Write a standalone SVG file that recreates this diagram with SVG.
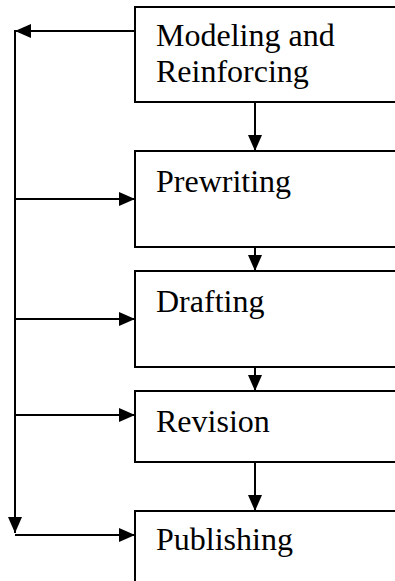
<svg xmlns="http://www.w3.org/2000/svg" width="395" height="581" viewBox="0 0 395 581">
<style>
.box{fill:#fff;stroke:#000;stroke-width:2}
.lbl{font-family:"Liberation Serif","Times New Roman",serif;font-size:32px;fill:#000}
.conn line{stroke:#000;stroke-width:2;marker-end:url(#ah)}
</style>
<defs>
<marker id="ah" markerUnits="userSpaceOnUse" markerWidth="16" markerHeight="14" refX="16" refY="7" orient="auto">
<path d="M0,0 L16,7 L0,14 z" fill="#000"/>
</marker>
</defs>
<rect width="395" height="581" fill="#fff"/>
<g id="modeling">
<rect class="box" x="135" y="7" width="300" height="95"/>
<text class="lbl" x="156" y="46">Modeling and</text>
<text class="lbl" x="156" y="82">Reinforcing</text>
</g>
<g id="prewriting">
<rect class="box" x="135" y="151" width="300" height="96"/>
<text class="lbl" x="156" y="192">Prewriting</text>
</g>
<g id="drafting">
<rect class="box" x="135" y="271" width="300" height="96"/>
<text class="lbl" x="156" y="312">Drafting</text>
</g>
<g id="revision">
<rect class="box" x="135" y="391" width="300" height="71"/>
<text class="lbl" x="156" y="432">Revision</text>
</g>
<g id="publishing">
<rect class="box" x="135" y="511" width="300" height="120"/>
<text class="lbl" x="156" y="550">Publishing</text>
</g>
<g id="connectors" class="conn">
<line x1="135" y1="31" x2="15" y2="31"/>
<line x1="15" y1="30" x2="15" y2="533"/>
<line x1="15" y1="199" x2="135" y2="199"/>
<line x1="15" y1="319" x2="135" y2="319"/>
<line x1="15" y1="415" x2="135" y2="415"/>
<line x1="15" y1="535" x2="135" y2="535"/>
<line x1="255" y1="102" x2="255" y2="151"/>
<line x1="255" y1="247" x2="255" y2="271"/>
<line x1="255" y1="367" x2="255" y2="391"/>
<line x1="255" y1="462" x2="255" y2="511"/>
</g>
</svg>
